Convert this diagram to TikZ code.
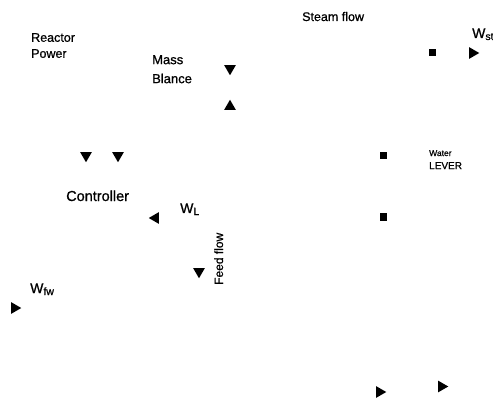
\documentclass[tikz,border=0pt]{standalone}
\usepackage{fontspec}
\setmainfont{Liberation Sans}[BoldFont=Liberation Sans, BoldFeatures={FakeBold=0.9}]
\usetikzlibrary{shapes.geometric}
\newcommand{\lowsub}[1]{\raisebox{-2pt}{\fontsize{10.5}{12}\selectfont #1}}
\tikzset{
  tip/.style={regular polygon, regular polygon sides=3, fill=black, draw=none, inner sep=0pt, minimum size=13.5pt},
  tipdown/.style={tip, shape border rotate=180},
  tipup/.style={tip},
  tipleft/.style={tip, shape border rotate=90},
  tipright/.style={tip, shape border rotate=-90},
  blob/.style={fill=black, inner sep=0pt, minimum size=7pt},
  lbl/.style={inner sep=0pt, anchor=base west},
  lbltwo/.style={inner sep=0pt, anchor=north west, align=left}
}

\begin{document}
\begin{tikzpicture}[x=1pt, y=-1pt, every node/.append style={font=\bfseries}]
        \useasboundingbox (0,0) rectangle (493,401);
        % labels
        \node[lbltwo, font=\fontsize{12.5}{16}\selectfont\bfseries] (power) at (31,33) {Reactor\\Power};
        \node[lbltwo, font=\fontsize{13}{19}\selectfont\bfseries] (mass) at (152,55) {Mass\\Blance};
        \node[lbl, font=\fontsize{12.5}{15}\selectfont\bfseries] (steam) at (302,21) {Steam flow};
        \node[lbl, font=\fontsize{14}{16}\selectfont\bfseries] (wst) at (472,38) {W\lowsub{st}};
        \node[lbl, font=\fontsize{14.5}{17}\selectfont\bfseries] (ctrl) at (66,201) {Controller};
        \node[lbl, font=\fontsize{14}{16}\selectfont\bfseries] (wl) at (180,213) {W\lowsub{L}};
        \node[lbl, font=\fontsize{14}{16}\selectfont\bfseries] (wfw) at (30,293) {W\lowsub{fw}};
        \node[lbl, rotate=90, font=\fontsize{12}{14}\selectfont\bfseries] (feed) at (223,285) {Feed flow};
        \node[lbltwo, font=\fontsize{10}{13}\selectfont\bfseries] (level) at (429,150) {{\fontsize{8.5}{10}\selectfont Water}\\LEVER};
        % arrow tips, the lines are gone
        \node[tipdown] (mbin) at (230,68.5) {};
        \node[tipup] (mbout) at (230,106.5) {};
        \node[tipdown] (rpa) at (86,155.5) {};
        \node[tipdown] (rpb) at (118,155.5) {};
        \node[tipleft] (wlin) at (155.5,218) {};
        \node[tipdown] (fdin) at (199,271.5) {};
        \node[tipright] (fwin) at (14.5,308) {};
        \node[tipright] (stout) at (472.5,53) {};
        \node[tipright] (bota) at (379.5,392) {};
        \node[tipright] (botb) at (441.5,386.5) {};
        % level markers
        \node[blob] (sqst) at (432,53) {};
        \node[blob] (sqhi) at (383,156) {};
        \node[blob] (sqlo) at (383,217) {};
\end{tikzpicture}
\end{document}
